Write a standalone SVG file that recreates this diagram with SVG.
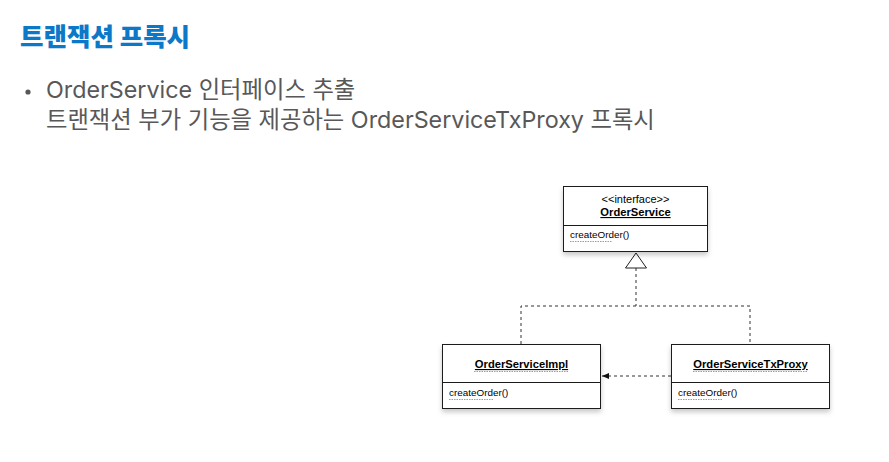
<svg xmlns="http://www.w3.org/2000/svg" width="889" height="462" viewBox="0 0 889 462">
  <style>
    .title { font-family: "Noto Sans CJK KR", sans-serif; font-weight: 900; font-size: 25.5px; fill: #0b78c8; }
    .body { font-family: Inter, "Noto Sans CJK KR", sans-serif; font-size: 23.3px; fill: #585858; }
    .box { fill: #ffffff; stroke: #1a1a1a; stroke-width: 1; }
    .div { stroke: #1a1a1a; stroke-width: 1; }
    .lbl { font-family: "Liberation Sans", Arial, sans-serif; font-size: 11px; fill: #000; }
    .op { font-family: "Liberation Sans", Arial, sans-serif; font-size: 9.9px; fill: #000; }
    .name { font-family: "Liberation Sans", Arial, sans-serif; font-size: 11.2px; font-weight: bold; fill: #000; text-decoration: underline; }
    .dash { fill: none; stroke: #333; stroke-width: 1; stroke-dasharray: 3 3; }
    .squig { fill: none; stroke: #e05a5a; stroke-width: 0.8; stroke-dasharray: 1.5 1; }
  </style>
  <defs>
    <filter id="shadow" x="-10%" y="-10%" width="120%" height="130%">
      <feDropShadow dx="0" dy="3" stdDeviation="2.5" flood-color="#000" flood-opacity="0.22"/>
    </filter>
    <marker id="arrow" markerWidth="8" markerHeight="8" refX="7" refY="4" orient="auto" markerUnits="userSpaceOnUse">
      <path d="M0,1 L7,4 L0,7 Z" fill="#111"/>
    </marker>
  </defs>
  <rect width="889" height="462" fill="#ffffff"/>

  <g id="header">
    <text class="title" x="20" y="46">트랜잭션 프록시</text>
    <circle cx="28" cy="92" r="2.6" fill="#585858"/>
    <text class="body" x="46" y="98">OrderService 인터페이스 추출</text>
    <text class="body" x="46" y="128">트랜잭션 부가 기능을 제공하는 OrderServiceTxProxy 프록시</text>
  </g>

  <g id="connectors">
    <path class="dash" d="M636,268 V306"/>
    <path class="dash" d="M521,344 V306 H750 V344"/>
    <path d="M636,253 L646.5,268 L625.5,268 Z" fill="#fff" stroke="#222" stroke-width="1"/>
    <path class="dash" d="M671,376 H602" marker-end="url(#arrow)"/>
  </g>

  <g id="OrderService">
    <rect class="box" x="563.5" y="186.5" width="144" height="65" filter="url(#shadow)"/>
    <line class="div" x1="563.5" y1="225.5" x2="707.5" y2="225.5"/>
    <text class="lbl" x="635.5" y="203" text-anchor="middle">&lt;&lt;interface&gt;&gt;</text>
    <text class="name" x="635.5" y="216" text-anchor="middle">OrderService</text>
    <text class="op" x="570" y="238">createOrder()</text>
    <path class="squig" d="M570,241.5 H612"/>
  </g>

  <g id="OrderServiceImpl">
    <rect class="box" x="442.5" y="344.5" width="158" height="64" filter="url(#shadow)"/>
    <line class="div" x1="442.5" y1="382.5" x2="600.5" y2="382.5"/>
    <text class="name" x="521.5" y="368" text-anchor="middle">OrderServiceImpl</text>
    <path class="squig" d="M474,371.5 H569"/>
    <text class="op" x="449" y="396">createOrder()</text>
    <path class="squig" d="M449,399.5 H494"/>
  </g>

  <g id="OrderServiceTxProxy">
    <rect class="box" x="671.5" y="344.5" width="158" height="64" filter="url(#shadow)"/>
    <line class="div" x1="671.5" y1="382.5" x2="829.5" y2="382.5"/>
    <text class="name" x="750.5" y="368" text-anchor="middle">OrderServiceTxProxy</text>
    <path class="squig" d="M693,371.5 H807"/>
    <text class="op" x="678" y="396">createOrder()</text>
    <path class="squig" d="M678,399.5 H723"/>
  </g>
</svg>
